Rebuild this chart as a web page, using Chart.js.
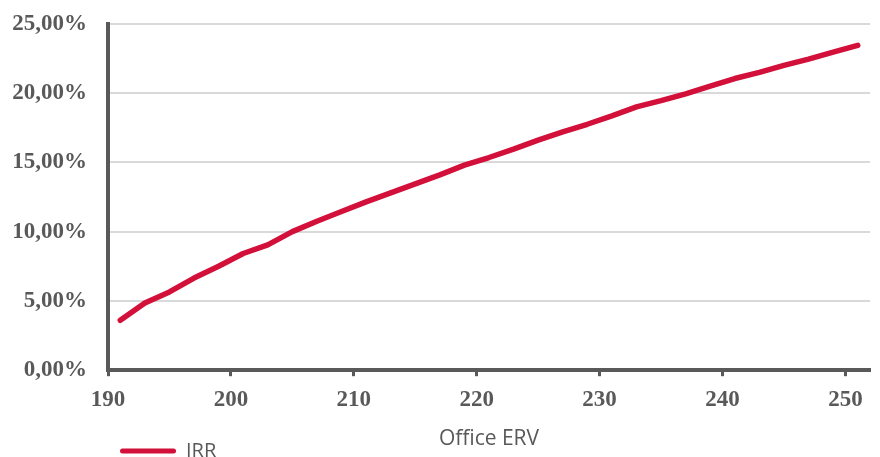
<!DOCTYPE html>
<html>
<head>
<meta charset="utf-8">
<script src="https://cdn.jsdelivr.net/npm/chart.js@4/dist/chart.umd.min.js"></script>
<style>
  html, body { margin: 0; padding: 0; background: #ffffff; }
  #wrap { position: relative; width: 880px; height: 457px; }
</style>
</head>
<body>
<div id="wrap"><canvas id="irr-chart"></canvas></div>
<script>
// office ERV values (x) and IRR in percent (y)
const officeErv = [191, 193, 195, 197, 199, 201, 203, 205, 207, 209, 211, 213, 215, 217, 219, 221,
    223, 225, 227, 229, 231, 233, 235, 237, 239, 241, 243, 245, 247, 249, 251];
const irrValues = [3.6, 4.85, 5.65, 6.65, 7.5, 8.42, 9.05, 10.0, 10.75, 11.45, 12.15, 12.8, 13.45, 14.1, 14.8, 15.35,
    15.95, 16.6, 17.2, 17.75, 18.35, 19.0, 19.45, 19.95, 20.5, 21.05, 21.5, 22.0, 22.45, 22.95, 23.45];
const xTicks = [190, 200, 210, 220, 230, 240, 250];
const yTicks = [0, 5, 10, 15, 20, 25];

const seriesLabel = 'IRR';
const xTitle = 'Office ERV';

const lineColor = 'rgb(210, 16, 58)';
const axisColor = '#595959';
const gridColor = '#d9d9d9';

// legend sits tucked under the axis title, at the left like the excel original
const legendShift = {
    id: 'legendShift',
    afterLayout(chart) {
        chart.legend.left = 110;
        chart.legend.top -= 21;
    }
};

const $canvas = document.getElementById('irr-chart');

new Chart($canvas, {
    type: 'line',
    data: {
        datasets: [{
            label: seriesLabel,
            data: officeErv.map((erv, i) => ({ x: erv, y: irrValues[i] })),
            borderColor: lineColor,
            backgroundColor: lineColor,
            borderWidth: 5.5,
            borderCapStyle: 'round',
            borderJoinStyle: 'round',
            pointRadius: 0,
            tension: 0
        }]
    },
    options: {
        responsive: true,
        maintainAspectRatio: false,
        animation: false,
        layout: { padding: { left: 0, right: 10, top: 0, bottom: -35 } },
        plugins: {
            tooltip: { enabled: false },
            legend: {
                position: 'bottom',
                align: 'start',
                labels: {
                    boxWidth: 56,
                    boxHeight: 5,
                    padding: 10,
                    color: axisColor,
                    font: { family: '"Open Sans"', size: 20 },
                    generateLabels: (chart) => Chart.defaults.plugins.legend.labels.generateLabels(chart)
                        .map(item => ({ ...item, lineWidth: 0, fillStyle: lineColor, borderRadius: 2.5 })),
                    useBorderRadius: true
                }
            }
        },
        scales: {
            x: {
                type: 'linear',
                min: 190,
                max: 252,
                afterBuildTicks: (scale) => { scale.ticks = xTicks.map(v => ({ value: v })); },
                grid: {
                    drawOnChartArea: false,
                    drawTicks: true,
                    tickLength: 6,
                    tickWidth: 3,
                    tickColor: axisColor
                },
                border: { display: true, color: axisColor, width: 4 },
                ticks: {
                    padding: 10,
                    color: axisColor,
                    font: { family: '"Liberation Serif"', size: 23, weight: 'bold' },
                    maxRotation: 0
                },
                title: {
                    display: true,
                    text: xTitle,
                    color: axisColor,
                    font: { family: '"Open Sans"', size: 21 },
                    padding: { top: 3, bottom: 0 }
                }
            },
            y: {
                min: 0,
                max: 25,
                afterBuildTicks: (scale) => { scale.ticks = yTicks.map(v => ({ value: v })); },
                afterFit: (scale) => { scale.width = 108; },
                grid: {
                    color: gridColor,
                    lineWidth: 2,
                    drawTicks: true,
                    tickLength: 11,
                    tickColor: 'rgba(0,0,0,0)'
                },
                border: { display: true, color: axisColor, width: 4 },
                ticks: {
                    padding: 10,
                    color: axisColor,
                    font: { family: '"Liberation Serif"', size: 23, weight: 'bold' },
                    callback: (value) => value.toFixed(2).replace('.', ',') + '%'
                }
            }
        }
    },
    plugins: [legendShift]
});
</script>
</body>
</html>
